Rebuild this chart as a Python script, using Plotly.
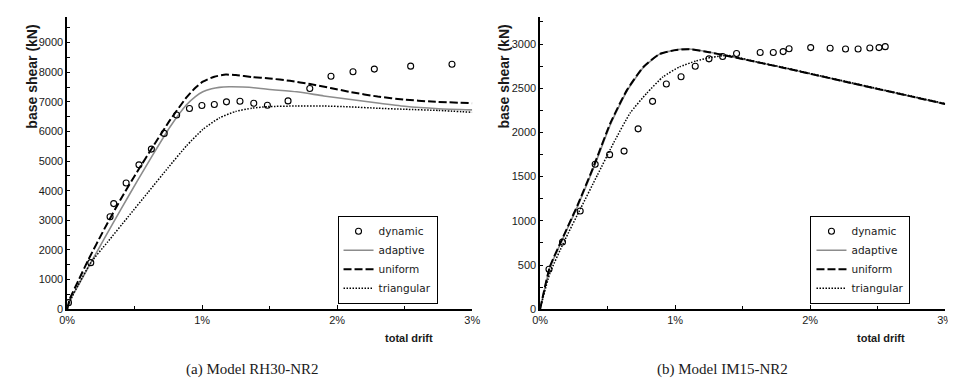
import plotly.graph_objects as go

# ---------------- data: (a) Model RH30-NR2 ----------------
a_dynamic_x = [0.01, 0.175, 0.318, 0.345, 0.437, 0.532, 0.624, 0.719, 0.811, 0.906, 0.998, 1.09,
               1.18, 1.28, 1.382, 1.483, 1.636, 1.797, 1.954, 2.117, 2.275, 2.544, 2.85]
a_dynamic_y = [222, 1571, 3123, 3565, 4263, 4873, 5405, 5936, 6556, 6777, 6877, 6910,
               7000, 7020, 6954, 6887, 7033, 7452, 7863, 8017, 8106, 8206, 8272]

a_adaptive_x = [0, 0.02, 0.082, 0.155, 0.277, 0.399, 0.52, 0.641, 0.763, 0.884, 0.95, 1.005,
                1.07, 1.127, 1.2, 1.3, 1.4, 1.5, 1.7, 1.9, 2.1, 2.3, 2.5, 2.75, 3.0]
a_adaptive_y = [0, 300, 800, 1400, 2400, 3380, 4330, 5260, 6160, 6900, 7180, 7340,
                7440, 7490, 7508, 7500, 7470, 7420, 7340, 7200, 7080, 6960, 6850, 6770, 6730]

a_uniform_x = [0, 0.02, 0.082, 0.155, 0.277, 0.399, 0.52, 0.641, 0.763, 0.884, 0.95, 1.005,
               1.09, 1.175, 1.25, 1.369, 1.5, 1.65, 1.8, 1.95, 2.1, 2.3, 2.5, 2.7, 3.0]
a_uniform_y = [0, 350, 950, 1650, 2720, 3730, 4650, 5530, 6390, 7150, 7480, 7680,
               7850, 7920, 7905, 7840, 7790, 7710, 7600, 7470, 7330, 7180, 7075, 7010, 6954]

a_triangular_x = [0, 0.03, 0.08, 0.175, 0.3, 0.45, 0.6, 0.75, 0.884, 1.005, 1.127, 1.248,
                  1.369, 1.49, 1.7, 1.9, 2.1, 2.3, 2.5, 2.75, 3.0]
a_triangular_y = [0, 350, 800, 1571, 2270, 3110, 3950, 4790, 5515, 6070, 6455, 6678,
                  6787, 6840, 6860, 6860, 6830, 6785, 6750, 6710, 6650]

# ---------------- data: (b) Model IM15-NR2 ----------------
b_dynamic_x = [0.066, 0.166, 0.297, 0.408, 0.515, 0.622, 0.726, 0.833, 0.935, 1.044, 1.149, 1.251,
               1.352, 1.455, 1.63, 1.727, 1.8, 1.844, 2.004, 2.148, 2.262, 2.355, 2.442, 2.51, 2.556]
b_dynamic_y = [452, 760, 1111, 1641, 1749, 1789, 2041, 2352, 2549, 2630, 2749, 2833,
               2860, 2893, 2904, 2904, 2915, 2948, 2960, 2952, 2944, 2944, 2956, 2960, 2971]

b_adaptive_x = [0, 0.073, 0.17, 0.28, 0.40, 0.522, 0.644, 0.765, 0.886, 1.008, 1.105, 1.251,
                1.372, 1.776, 2.262, 2.748, 3.0]
b_adaptive_y = [0, 470, 805, 1172, 1612, 2095, 2470, 2735, 2886, 2935, 2945, 2910,
                2872, 2740, 2572, 2406, 2320]

b_uniform_x = [0, 0.073, 0.17, 0.28, 0.40, 0.522, 0.644, 0.765, 0.886, 1.008, 1.105, 1.251,
               1.372, 1.776, 2.262, 2.748, 3.0]
b_uniform_y = [0, 482, 816, 1186, 1630, 2111, 2482, 2741, 2889, 2933, 2941, 2908,
               2871, 2741, 2574, 2408, 2322]

b_triangular_x = [0, 0.073, 0.182, 0.303, 0.425, 0.547, 0.668, 0.79, 0.911, 1.032, 1.153, 1.275,
                  1.396, 1.6, 1.776, 2.262, 2.748, 3.0]
b_triangular_y = [0, 408, 778, 1149, 1519, 1889, 2222, 2444, 2630, 2741, 2808, 2852,
                  2871, 2800, 2745, 2578, 2412, 2326]

# ---------------- tick labels / text ----------------
x_tick_vals = [0, 1, 2, 3]
x_tick_text = ["0%", "1%", "2%", "3%"]
series_names = ["dynamic", "adaptive", "uniform", "triangular"]
captions = ["(a) Model RH30-NR2", "(b) Model IM15-NR2"]
y_title = "base shear (kN)"
x_title = "total drift"

W, H = 956, 383
SANS = "Liberation Sans"
LEG_FONT = "DejaVu Sans"


def px_x(p):
    return p / W


def px_y(p):
    return 1 - p / H


fig = go.Figure()

panels = [
    ("x", "y", "legend", a_dynamic_x, a_dynamic_y, a_adaptive_x, a_adaptive_y,
     a_uniform_x, a_uniform_y, a_triangular_x, a_triangular_y),
    ("x2", "y2", "legend2", b_dynamic_x, b_dynamic_y, b_adaptive_x, b_adaptive_y,
     b_uniform_x, b_uniform_y, b_triangular_x, b_triangular_y),
]

SMOOTH = 0.5
for (xa, ya, leg, dx, dy, adx, ady, ux, uy, tx, ty) in panels:
    fig.add_trace(go.Scatter(x=adx, y=ady, mode="lines", name=series_names[1],
                             line=dict(color="#8c8c8c", width=1.6, shape="spline", smoothing=SMOOTH),
                             xaxis=xa, yaxis=ya, legend=leg, legendrank=2))
    fig.add_trace(go.Scatter(x=tx, y=ty, mode="lines", name=series_names[3],
                             line=dict(color="black", width=1.5, dash="1.5px,1.5px",
                                       shape="spline", smoothing=SMOOTH),
                             xaxis=xa, yaxis=ya, legend=leg, legendrank=4))
    fig.add_trace(go.Scatter(x=ux, y=uy, mode="lines", name=series_names[2],
                             line=dict(color="black", width=2, dash="8px,3px",
                                       shape="spline", smoothing=SMOOTH),
                             xaxis=xa, yaxis=ya, legend=leg, legendrank=3))
    fig.add_trace(go.Scatter(x=dx, y=dy, mode="markers", name=series_names[0],
                             marker=dict(symbol="circle-open", size=6, color="black",
                                         line=dict(width=1.1, color="black")),
                             xaxis=xa, yaxis=ya, legend=leg, legendrank=1, cliponaxis=False))

tickfont = dict(family=SANS, size=11, color="#1a1a1a")
common_x = dict(range=[0, 3], tickvals=x_tick_vals, ticktext=x_tick_text,
                showline=True, linecolor="black", linewidth=1.5, showgrid=False, zeroline=False,
                ticks="inside", ticklen=4, tickcolor="black", tickwidth=1,
                minor=dict(dtick=0.5, tick0=0, ticks="inside", ticklen=3, tickcolor="black"),
                tickfont=tickfont, fixedrange=True)
common_y = dict(showline=True, linecolor="black", linewidth=1.5, showgrid=False, zeroline=False,
                ticks="inside", ticklen=3, tickcolor="black", tickwidth=1, tickformat="d",
                tickfont=tickfont, fixedrange=True)

ydom = [px_y(306), px_y(9)]
fig.update_layout(
    width=W, height=H,
    margin=dict(l=0, r=0, t=0, b=0),
    paper_bgcolor="white", plot_bgcolor="white",
    xaxis=dict(domain=[px_x(52), px_x(464)], anchor="y", **common_x),
    xaxis2=dict(domain=[px_x(533), px_x(945)], anchor="y2", **common_x),
    yaxis=dict(domain=ydom, anchor="x", range=[0, 9870], dtick=1000, tick0=0,
               minor=dict(dtick=500, tick0=0, ticks="inside", ticklen=3, tickcolor="black"),
               **common_y),
    yaxis2=dict(domain=ydom, anchor="x2", range=[0, 3308], dtick=500, tick0=0,
                minor=dict(dtick=250, tick0=0, ticks="inside", ticklen=3, tickcolor="black"),
                **common_y),
    showlegend=True,
    legend=dict(x=px_x(327), y=px_y(211), xanchor="left", yanchor="top",
                bordercolor="black", borderwidth=1, bgcolor="white",
                font=dict(family=LEG_FONT, size=10.5, color="#1a1a1a"),
                tracegroupgap=0, itemwidth=30, traceorder="normal"),
    legend2=dict(x=px_x(808), y=px_y(211), xanchor="left", yanchor="top",
                 bordercolor="black", borderwidth=1, bgcolor="white",
                 font=dict(family=LEG_FONT, size=10.5, color="#1a1a1a"),
                 tracegroupgap=0, itemwidth=30, traceorder="normal"),
)

annotations = []
for cx in (16, 496):
    annotations.append(dict(text="<b>" + y_title + "</b>", x=px_x(cx), y=px_y(70),
                            xref="paper", yref="paper", xanchor="center", yanchor="middle",
                            textangle=-90, showarrow=False,
                            font=dict(family=SANS, size=14, color="#1a1a1a")))
for cx in (400, 880):
    annotations.append(dict(text="<b>" + x_title + "</b>", x=px_x(cx), y=px_y(335),
                            xref="paper", yref="paper", xanchor="center", yanchor="middle",
                            showarrow=False, font=dict(family=SANS, size=11, color="#1a1a1a")))
for cx, cap in zip((240, 719), captions):
    annotations.append(dict(text=cap, x=px_x(cx), y=px_y(367),
                            xref="paper", yref="paper", xanchor="center", yanchor="middle",
                            showarrow=False, font=dict(family="Liberation Serif", size=15, color="#1a1a1a")))
fig.update_layout(annotations=annotations)

fig.write_html("out.html")
